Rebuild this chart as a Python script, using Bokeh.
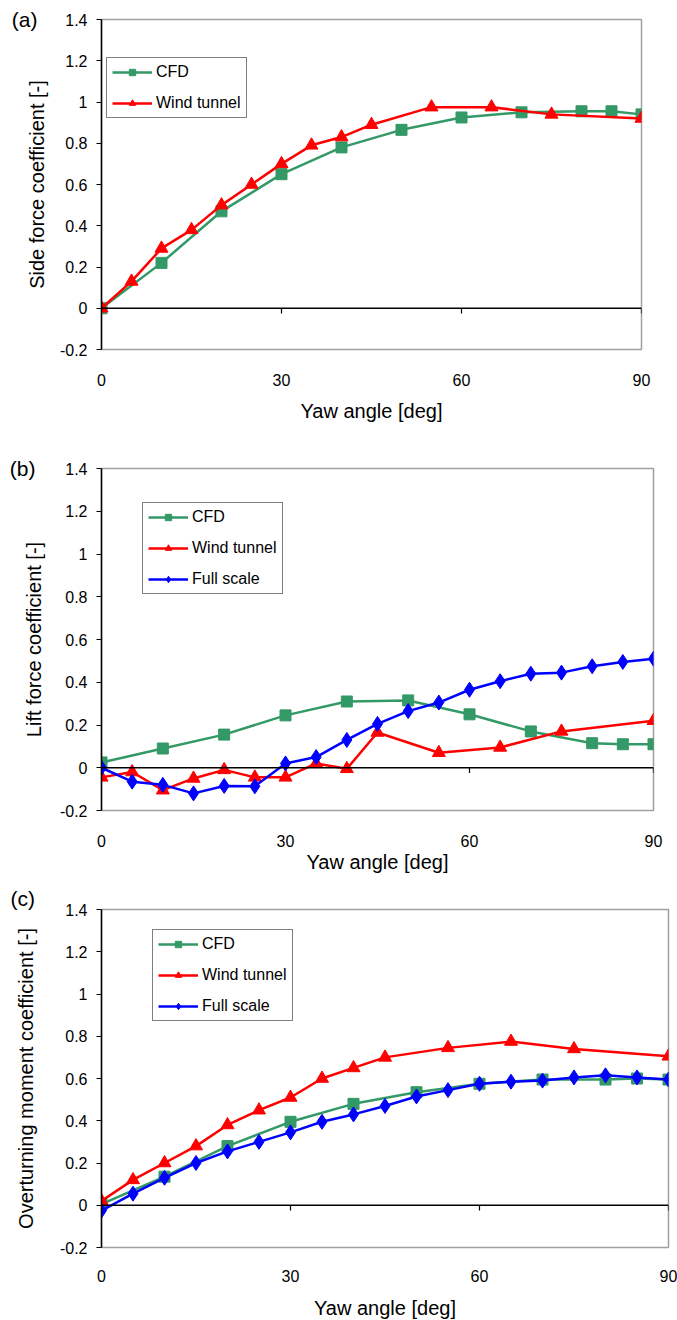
from bokeh.plotting import figure
from bokeh.layouts import column
from bokeh.models import FixedTicker, Span, Legend, LinearAxis, Title
from bokeh.embed import file_html
from bokeh.resources import INLINE

# ---- data -------------------------------------------------------------
# (a) side force coefficient
a_cfd_x = [0, 10, 20, 30, 40, 50, 60, 70, 80, 85, 90]
a_cfd_y = [0.0, 0.22, 0.47, 0.65, 0.78, 0.865, 0.925, 0.95, 0.955, 0.955, 0.94]
a_wt_x = [0, 5, 10, 15, 20, 25, 30, 35, 40, 45, 55, 65, 75, 90]
a_wt_y = [0.0, 0.13, 0.29, 0.38, 0.50, 0.60, 0.70, 0.79, 0.83, 0.89, 0.975, 0.975, 0.94, 0.92]

# (b) lift force coefficient
b_cfd_x = [0, 10, 20, 30, 40, 50, 60, 70, 80, 85, 90]
b_cfd_y = [0.025, 0.09, 0.155, 0.245, 0.31, 0.315, 0.25, 0.17, 0.115, 0.11, 0.11]
b_wt_x = [0, 5, 10, 15, 20, 25, 30, 35, 40, 45, 55, 65, 75, 90]
b_wt_y = [-0.045, -0.02, -0.105, -0.05, -0.01, -0.045, -0.045, 0.02, -0.005, 0.165,
          0.07, 0.095, 0.17, 0.22]
b_fs_x = [0, 5, 10, 15, 20, 25, 30, 35, 40, 45, 50, 55, 60, 65, 70, 75, 80, 85, 90]
b_fs_y = [0.0, -0.065, -0.08, -0.12, -0.085, -0.087, 0.02, 0.05, 0.13, 0.205, 0.265,
          0.305, 0.365, 0.405, 0.44, 0.445, 0.475, 0.495, 0.51]

# (c) overturning moment coefficient
c_cfd_x = [0, 10, 20, 30, 40, 50, 60, 70, 80, 85, 90]
c_cfd_y = [0.005, 0.135, 0.28, 0.395, 0.48, 0.535, 0.575, 0.595, 0.595, 0.6, 0.595]
c_wt_x = [0, 5, 10, 15, 20, 25, 30, 35, 40, 45, 55, 65, 75, 90]
c_wt_y = [0.02, 0.12, 0.20, 0.28, 0.38, 0.45, 0.51, 0.60, 0.65, 0.70, 0.745, 0.775,
          0.74, 0.705]
c_fs_x = [0, 5, 10, 15, 20, 25, 30, 35, 40, 45, 50, 55, 60, 65, 70, 75, 80, 85, 90]
c_fs_y = [-0.025, 0.055, 0.13, 0.2, 0.255, 0.30, 0.345, 0.395, 0.43, 0.47, 0.515,
          0.545, 0.575, 0.585, 0.59, 0.605, 0.615, 0.605, 0.595]

x_ticks = [0, 30, 60, 90]
x_tick_labels = ["0", "30", "60", "90"]
y_ticks = [-0.2, 0, 0.2, 0.4, 0.6, 0.8, 1.0, 1.2, 1.4]
y_tick_labels = ["-0.2", "0", "0.2", "0.4", "0.6", "0.8", "1", "1.2", "1.4"]

FONT = "Liberation Sans"
GREEN = "#339966"
RED = "#ff0000"
BLUE = "#0000ff"


def make_panel(tag, ylabel, series, *, left, frame_w, right, top, frame_h, bottom,
               legend_xy, xlab_standoff, xtitle_standoff, ytitle_standoff,
               tag_mode, tag_shift):
    p = figure(width=left + frame_w + right, height=top + frame_h + bottom,
               frame_width=frame_w, frame_height=frame_h,
               min_border_left=left, min_border_right=right,
               min_border_top=top, min_border_bottom=bottom,
               x_range=(0, 90), y_range=(-0.2, 1.4),
               output_backend="svg", toolbar_location=None, title=None)
    p.grid.visible = False
    p.background_fill_color = "white"
    p.border_fill_color = "white"
    p.outline_line_color = "#a0a0a0"
    p.outline_line_width = 1.5

    # x axis: labels below the frame, axis line drawn at y = 0
    xa = p.xaxis[0]
    xa.ticker = FixedTicker(ticks=x_ticks)
    xa.major_label_overrides = {t: s for t, s in zip(x_ticks, x_tick_labels)}
    xa.axis_line_color = None
    xa.major_tick_line_color = None
    xa.minor_tick_line_color = None
    xa.major_label_standoff = xlab_standoff
    xa.major_label_text_font = FONT
    xa.major_label_text_font_size = "16px"
    xa.major_label_text_color = "black"
    xa.axis_label = "Yaw angle [deg]"
    xa.axis_label_text_font = FONT
    xa.axis_label_text_font_size = "20px"
    xa.axis_label_text_font_style = "normal"
    xa.axis_label_text_color = "black"
    xa.axis_label_standoff = xtitle_standoff

    ya = p.yaxis[0]
    ya.ticker = FixedTicker(ticks=y_ticks)
    ya.major_label_overrides = {t: s for t, s in zip(y_ticks, y_tick_labels)}
    ya.axis_line_color = "black"
    ya.axis_line_width = 1.5
    ya.major_tick_line_color = "black"
    ya.major_tick_line_width = 1.2
    ya.major_tick_out = 5
    ya.major_tick_in = 0
    ya.minor_tick_line_color = None
    ya.major_label_standoff = 9
    ya.major_label_text_font = FONT
    ya.major_label_text_font_size = "16px"
    ya.major_label_text_color = "black"
    ya.axis_label = ylabel
    ya.axis_label_text_font = FONT
    ya.axis_label_text_font_size = "20px"
    ya.axis_label_text_font_style = "normal"
    ya.axis_label_text_color = "black"
    ya.axis_label_standoff = ytitle_standoff

    # panel tag "(a)" etc.
    if tag_mode == "axis":
        # label-only outer axis, level with the top of the frame
        top_val = y_ticks[-1]
        tag_axis = LinearAxis(ticker=FixedTicker(ticks=[top_val]),
                              major_label_overrides={top_val: tag},
                              axis_line_color=None, major_tick_line_color=None,
                              minor_tick_line_color=None,
                              major_tick_out=0, major_tick_in=0,
                              major_label_standoff=tag_shift,
                              major_label_text_font=FONT,
                              major_label_text_font_size="21px",
                              major_label_text_color="black")
        p.add_layout(tag_axis, "left")
    else:
        # title just above the frame, pushed out to the left margin
        p.title = Title(text=tag, align="left", offset=tag_shift, standoff=0,
                        vertical_align="bottom", text_font=FONT,
                        text_font_size="21px", text_font_style="normal",
                        text_color="black")

    # horizontal axis line through zero with short downward ticks
    p.add_layout(Span(location=0, dimension="width", line_color="black", line_width=1.5))
    tick_depth = 0.025
    p.segment(x0=x_ticks[1:], y0=[0] * 3, x1=x_ticks[1:], y1=[-tick_depth] * 3,
              line_color="black", line_width=1.2)

    items = []
    for name, xs, ys, color, marker, size in series:
        r1 = p.line(xs, ys, line_color=color, line_width=2.5)
        r2 = p.scatter(xs, ys, marker=marker, size=size, fill_color=color,
                       line_color=color)
        items.append((name, [r1, r2]))

    leg = Legend(items=items, location=legend_xy,
                 label_text_font=FONT, label_text_font_size="16px",
                 label_text_color="black",
                 border_line_color="black", border_line_width=1.2,
                 background_fill_color="white", background_fill_alpha=1.0,
                 padding=5, spacing=13, margin=0,
                 label_height=16, glyph_height=16, glyph_width=40,
                 label_standoff=4)
    p.add_layout(leg)
    return p


pa = make_panel(
    "(a)", "Side force coefficient [-]",
    [("CFD", a_cfd_x, a_cfd_y, GREEN, "square", 11),
     ("Wind tunnel", a_wt_x, a_wt_y, RED, "triangle", 13)],
    left=96, frame_w=540, right=41, top=19, frame_h=330, bottom=91,
    legend_xy=(5, 231), xlab_standoff=18, xtitle_standoff=11, ytitle_standoff=9,
    tag_mode="axis", tag_shift=-15)

pb = make_panel(
    "(b)", "Lift force coefficient [-]",
    [("CFD", b_cfd_x, b_cfd_y, GREEN, "square", 11),
     ("Wind tunnel", b_wt_x, b_wt_y, RED, "triangle", 13),
     ("Full scale", b_fs_x, b_fs_y, BLUE, "diamond", 15)],
    left=101, frame_w=552, right=24, top=28, frame_h=342, bottom=65,
    legend_xy=(41, 216), xlab_standoff=18, xtitle_standoff=1, ytitle_standoff=12,
    tag_mode="axis", tag_shift=-16)

pc = make_panel(
    "(c)", "Overturning moment coefficient [-]",
    [("CFD", c_cfd_x, c_cfd_y, GREEN, "square", 11),
     ("Wind tunnel", c_wt_x, c_wt_y, RED, "triangle", 13),
     ("Full scale", c_fs_x, c_fs_y, BLUE, "diamond", 15)],
    left=100, frame_w=567, right=10, top=34, frame_h=338, bottom=73,
    legend_xy=(51, 226), xlab_standoff=16, xtitle_standoff=12, ytitle_standoff=20,
    tag_mode="title", tag_shift=-91)

layout = column(pa, pb, pc, spacing=0)
open("out.html", "w").write(file_html(layout, INLINE))
